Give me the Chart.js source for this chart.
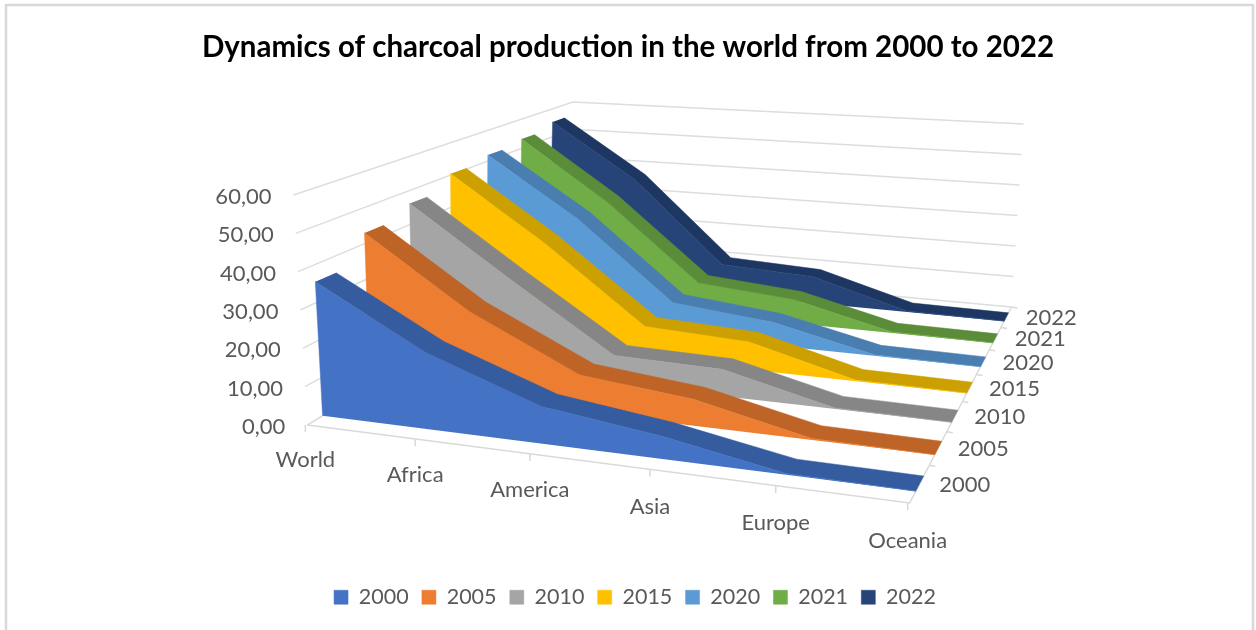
<!DOCTYPE html>
<html><head><meta charset="utf-8">
<script src="https://cdn.jsdelivr.net/npm/chart.js@4"></script>
<style>html,body{margin:0;padding:0;background:#fff}canvas{display:block}</style>
</head><body><canvas id="c" width="1256" height="630"></canvas>
<script>
const categories = ['World','Africa','America','Asia','Europe','Oceania'];
const years = ['2000','2005','2010','2015','2020','2021','2022'];
const values2000 = [35.5,20,9.5,5.7,0.3,0.03];
const values2005 = [43,24,10,7,0.4,0.03];
const values2010 = [46.2,27,8,7.4,0.3,0.03];
const values2015 = [50.4,31.5,9.4,8,0.3,0.03];
const values2020 = [52,33.7,10,7,0.3,0.03];
const values2021 = [53.2,34,10,7.5,0.3,0.03];
const values2022 = [55.3,36.8,10.1,8.7,0.3,0.03];
const seriesValues = [values2000,values2005,values2010,values2015,values2020,values2021,values2022];
const valueTicks = [0,10,20,30,40,50,60];
const frontColors = ['#4472C4','#ED7D31','#A5A5A5','#FFC000','#5B9BD5','#70AD47','#264478'];
const ribbonColors = ['#355C9E','#BF6427','#868686','#CCA000','#4A7EB0','#5A8C3A','#1E3762'];

// view of the 3D box: floor (value 0) and ceiling (value 60) corners
const floorQuad = {fl:[307,425],fr:[910,503],br:[1012,307],bl:[568,266]};
const topQuad = {fl:[293,195],fr:[922,250],br:[1024,124],bl:[573,102]};
const bandStart = 0.3, bandEnd = 0.7;

function homography(q){
  const [x0,y0]=q.fl,[x1,y1]=q.fr,[x2,y2]=q.br,[x3,y3]=q.bl;
  const dx1=x1-x2,dx2=x3-x2,sx=x0-x1+x2-x3,dy1=y1-y2,dy2=y3-y2,sy=y0-y1+y2-y3;
  const den=dx1*dy2-dx2*dy1,g=(sx*dy2-dx2*sy)/den,h=(dx1*sy-sx*dy1)/den;
  const a=x1-x0+g*x1,b=x3-x0+h*x3,d=y1-y0+g*y1,e=y3-y0+h*y3;
  return (u,v)=>{const w=g*u+h*v+1;return [(a*u+b*v+x0)/w,(d*u+e*v+y0)/w];};
}
const hFloor=homography(floorQuad),hTop=homography(topQuad);
const maxValue=valueTicks[valueTicks.length-1];
function project(u,v,val){
  const f=hFloor(u,v),t=hTop(u,v),k=val/maxValue;
  return {x:f[0]+(t[0]-f[0])*k,y:f[1]+(t[1]-f[1])*k};
}
const lastCat=categories.length-1;
const datasets=[];
function poly(label,data,color,order,fill,width){
  datasets.push({label,data,showLine:true,pointRadius:0,pointHoverRadius:0,tension:0,clip:false,
    borderColor:color,backgroundColor:color,borderWidth:width,fill:fill?'shape':false,order});
}
seriesValues.forEach((vals,i)=>{
  const v0=(i+bandStart)/years.length,v1=(i+bandEnd)/years.length;
  const front=[project(0,v0,0)];
  vals.forEach((val,c)=>front.push(project(c/lastCat,v0,val)));
  front.push(project(1,v0,0));
  poly(years[i],front,frontColors[i],i*2,true,0.5);
  const ribbon=[];
  vals.forEach((val,c)=>ribbon.push(project(c/lastCat,v0,val)));
  for(let c=lastCat;c>=0;c--)ribbon.push(project(c/lastCat,v1,vals[c]));
  poly('',ribbon,ribbonColors[i],i*2+1,true,0.5);
});
valueTicks.forEach(t=>{
  poly('',[project(0,0,t),project(0,1,t),project(1,1,t)],'#DDDDDD',100,false,1.5);
});
poly('',[project(0,0,0),project(1,0,0),project(1,1,0)],'#D9D9D9',99,false,1.5);
categories.forEach((c,i)=>{
  const p=project(i/lastCat,0,0);
  poly('',[{x:p.x-2,y:p.y},{x:p.x-2,y:p.y+7}],'#D9D9D9',99,false,1.5);
});
years.forEach((y,i)=>{
  const p=project(1,(i+1)/years.length,0);
  poly('',[p,{x:p.x+6,y:p.y+1}],'#D9D9D9',99,false,1.5);
});

const sceneText={
  id:'sceneText',
  afterLayout(chart){
    chart.legend.left+=7;chart.legend.right+=7;
  },
  beforeDraw(chart){
    const c=chart.ctx;c.save();c.strokeStyle='#D9D9D9';c.lineWidth=2.5;
    c.strokeRect(6,5,1247,640);c.restore();
  },
  afterDatasetsDraw(chart){
    const c=chart.ctx,X=chart.scales.x,Y=chart.scales.y;
    c.save();c.fillStyle='#595959';c.font='22px Lato';c.textBaseline='middle';
    const put=(t,p,dx,dy,al)=>{c.textAlign=al;c.fillText(t,X.getPixelForValue(p.x)+dx,Y.getPixelForValue(p.y)+dy);};
    valueTicks.forEach(t=>put(t.toFixed(2).replace('.',','),project(0,0,t),-22,2,'right'));
    categories.forEach((n,i)=>put(n,project(i/lastCat,0,0),-2,35+3*i/lastCat,'center'));
    years.forEach((n,i)=>put(n,project(1,(i+0.5)/years.length,0),45,1,'center'));
    c.restore();
  }
};

const chart=new Chart(document.getElementById('c'),{
  type:'scatter',
  data:{datasets},
  options:{
    responsive:false,animation:false,
    layout:{padding:{left:0,right:0,top:0,bottom:12}},
    scales:{x:{type:'linear',display:false,min:0,max:1256},y:{type:'linear',display:false,reverse:true,min:0,max:630}},
    plugins:{
      tooltip:{enabled:false},
      filler:{propagate:false},
      title:{display:true,text:'Dynamics of charcoal production in the world from 2000 to 2022',
        color:'#000',font:{family:'Lato',size:29.5,weight:'bold'},padding:{top:30,bottom:10}},
      legend:{position:'bottom',
        labels:{boxWidth:14,boxHeight:14,padding:13.25,color:'#595959',font:{family:'Lato',size:21.5},
          filter:(item)=>years.includes(item.text)}}
    }
  },
  plugins:[sceneText]
});
// make the hidden scales read one-to-one with the scene
const a=chart.chartArea;
chart.options.scales.x.min=a.left;chart.options.scales.x.max=a.right;
chart.options.scales.y.min=a.top;chart.options.scales.y.max=a.bottom;
chart.update('none');
</script></body></html>
